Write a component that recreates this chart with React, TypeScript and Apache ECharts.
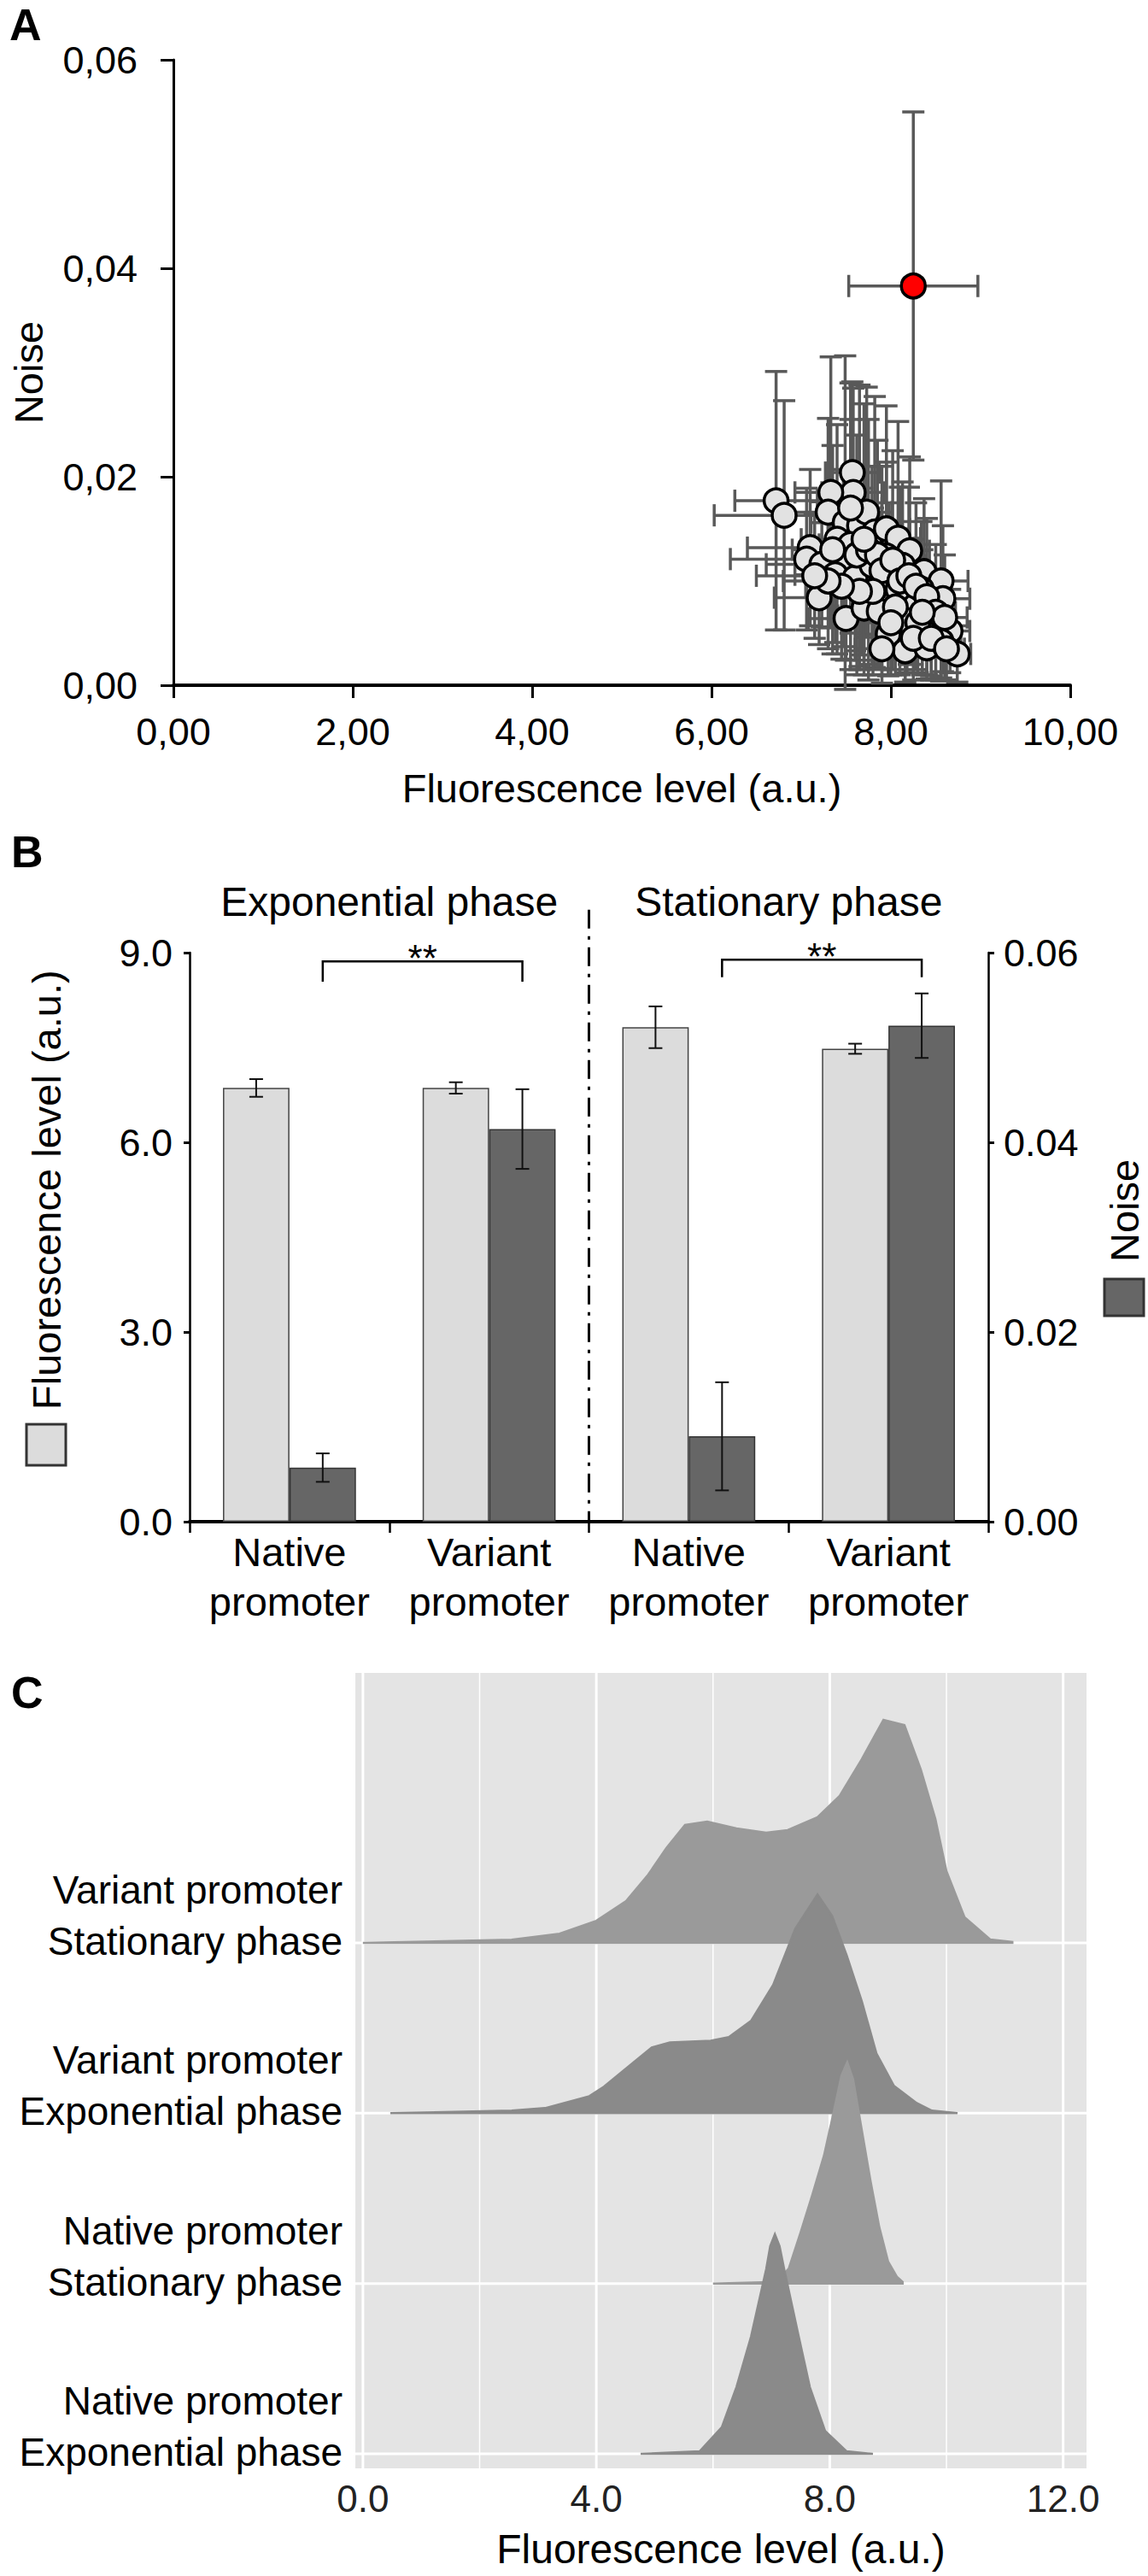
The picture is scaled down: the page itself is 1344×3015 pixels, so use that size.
import React, { useEffect, useRef } from "react";
import * as echarts from "echarts";

const FONT = '"Liberation Sans", Arial, Helvetica, sans-serif';

// ---------------- Panel A data ----------------
const aFluor = [6.72, 6.81, 7.57, 7.58, 7.33, 7.3, 7.49, 7.65, 7.73, 7.82, 7.95, 8.08, 8.21, 7.1, 7.06, 7.23, 7.47, 7.68, 7.38, 7.6, 7.79, 7.98, 8.13, 8.37, 8.56, 7.2, 7.5, 7.7, 7.87, 8.24, 8.34, 8.58, 7.97, 8.45, 8.66, 8.16, 8.4, 8.56, 8.74, 8.08, 7.95, 8.18, 8.3,
  7.4, 7.55, 7.62, 7.75, 7.85, 7.9, 8.02, 8.1, 8.2, 8.28, 8.4, 8.5, 8.6, 8.35, 8.05, 7.8, 7.65, 7.45, 7.3, 7.15, 7.35, 7.55, 7.7, 8.0, 8.25, 8.45, 8.62, 7.9];
const aNoise = [0.0177, 0.0163, 0.0204, 0.0185, 0.0185, 0.0166, 0.0156, 0.0153, 0.0166, 0.0147, 0.015, 0.0141, 0.0129, 0.0132, 0.0121, 0.0116, 0.0122, 0.0109, 0.0106, 0.0103, 0.0115, 0.01, 0.0115, 0.0109, 0.01, 0.0084, 0.0064, 0.0074, 0.0071, 0.008, 0.0092, 0.0083, 0.0049, 0.0054, 0.0052, 0.0033, 0.0036, 0.0042, 0.003, 0.0092, 0.0124, 0.0062, 0.006,
  0.014, 0.0135, 0.0125, 0.013, 0.0125, 0.011, 0.012, 0.01, 0.0105, 0.0095, 0.0085, 0.007, 0.0065, 0.007, 0.0075, 0.009, 0.009, 0.0095, 0.01, 0.0105, 0.013, 0.017, 0.014, 0.006, 0.0045, 0.0045, 0.0035, 0.0035];
const aFluorErr = [0.46, 0.78, 0.3, 0.35, 0.4, 0.45, 0.38, 0.32, 0.28, 0.3, 0.26, 0.25, 0.22, 0.7, 0.85, 0.62, 0.4, 0.35, 0.45, 0.4, 0.3, 0.28, 0.25, 0.22, 0.3, 0.5, 0.42, 0.35, 0.3, 0.25, 0.22, 0.3, 0.3, 0.25, 0.22, 0.28, 0.25, 0.22, 0.15, 0.25, 0.28, 0.26, 0.24,
  0.4, 0.35, 0.33, 0.3, 0.3, 0.28, 0.27, 0.26, 0.25, 0.24, 0.23, 0.22, 0.25, 0.25, 0.28, 0.32, 0.35, 0.4, 0.5, 0.65, 0.45, 0.35, 0.32, 0.28, 0.25, 0.22, 0.2, 0.3];
const aNoiseErr = [0.0124, 0.011, 0.0087, 0.01, 0.013, 0.009, 0.016, 0.0135, 0.012, 0.013, 0.0118, 0.0112, 0.009, 0.0075, 0.0068, 0.006, 0.0085, 0.008, 0.0065, 0.007, 0.0095, 0.0075, 0.008, 0.007, 0.0096, 0.0045, 0.004, 0.005, 0.0055, 0.006, 0.0065, 0.007, 0.004, 0.0045, 0.004, 0.003, 0.003, 0.0035, 0.0027, 0.0065, 0.009, 0.005, 0.0048,
  0.011, 0.012, 0.0115, 0.0125, 0.011, 0.01, 0.0105, 0.009, 0.0085, 0.008, 0.0075, 0.0065, 0.006, 0.006, 0.0065, 0.008, 0.0075, 0.007, 0.0065, 0.006, 0.01, 0.012, 0.013, 0.005, 0.004, 0.004, 0.003, 0.0033];
const aRed = [8.25, 0.0383];
const aRedErr = [0.72, 0.0167];

// ---------------- Panel B data ----------------
const bCategories = ["Native\npromoter", "Variant\npromoter", "Native\npromoter", "Variant\npromoter"];
const bFluor = [6.86, 6.86, 7.82, 7.48];
const bFluorErr = [0.14, 0.09, 0.33, 0.08];
const bNoise = [0.0057, 0.0414, 0.009, 0.0523];
const bNoiseErr = [0.0015, 0.0042, 0.0057, 0.0034];
const bPhases = ["Exponential phase", "Stationary phase"];
const bBrackets = [
  [0, 1, 8.86, 8.54],
  [2, 3, 8.89, 8.61],
];
const bSignifLabels = ["**", "**"];

// ---------------- Panel C data ----------------
const cLabels = [
  "Native promoter\nExponential phase",
  "Native promoter\nStationary phase",
  "Variant promoter\nExponential phase",
  "Variant promoter\nStationary phase",
];
const cTicks = [0, 4, 8, 12];
const cGridLines = [0, 2, 4, 6, 8, 10, 12];
const varStatX = [0.0, 2.55, 3.37, 4.0, 4.51, 4.89, 5.2, 5.52, 5.9, 6.4, 6.91, 7.28, 7.79, 8.17, 8.55, 8.92, 9.28, 9.56, 9.81, 10.0, 10.31, 10.75, 11.13];
const varStatD = [0, 0.019, 0.054, 0.13, 0.246, 0.401, 0.557, 0.692, 0.712, 0.672, 0.647, 0.662, 0.738, 0.863, 1.079, 1.31, 1.279, 1.019, 0.728, 0.421, 0.151, 0.02, 0.005];
const varExpX = [0.47, 2.55, 3.12, 3.88, 4.13, 4.63, 4.95, 5.26, 5.96, 6.27, 6.65, 7.03, 7.41, 7.79, 8.04, 8.29, 8.55, 8.8, 9.1, 9.49, 9.75, 10.19];
const varExpD = [0, 0.015, 0.03, 0.1, 0.156, 0.296, 0.386, 0.416, 0.426, 0.447, 0.542, 0.753, 1.084, 1.285, 1.159, 0.928, 0.657, 0.351, 0.161, 0.06, 0.015, 0];
const natStatX = [6.0, 7.1, 7.3, 7.5, 7.7, 7.9, 8.05, 8.2, 8.3, 8.4, 8.55, 8.7, 8.85, 9.0, 9.15, 9.25];
const natStatD = [0, 0.01, 0.09, 0.3, 0.52, 0.75, 0.98, 1.22, 1.3, 1.2, 0.9, 0.6, 0.33, 0.13, 0.04, 0.01];
const natExpX = [4.76, 5.77, 6.15, 6.4, 6.65, 6.91, 6.98, 7.06, 7.14, 7.22, 7.47, 7.66, 7.92, 8.29, 8.74];
const natExpD = [0, 0.015, 0.156, 0.391, 0.687, 1.084, 1.22, 1.29, 1.22, 1.084, 0.687, 0.391, 0.135, 0.015, 0];
const cLabelLift = 0.16;

const fmtComma = (v: number) => v.toFixed(2).replace(".", ",");

function ridgeSeries(xs: number[], ds: number[], base: number, color: string, z: number) {
  return {
    type: "custom",
    xAxisIndex: 2,
    yAxisIndex: 3,
    z,
    silent: true,
    data: xs.map((x, i) => [x, base + ds[i]]),
    renderItem: (params: any, api: any) => {
      if (params.dataIndex !== 0) return null;
      const pts = xs.map((x, i) => api.coord([x, base + ds[i]]));
      pts.push(api.coord([xs[xs.length - 1], base]));
      pts.push(api.coord([xs[0], base]));
      return {
        type: "polygon",
        shape: { points: pts },
        style: { fill: color, stroke: color, lineWidth: 2.5 },
      };
    },
  };
}

export default function App() {
  const ref = useRef<HTMLDivElement>(null);
  useEffect(() => {
    document.body.style.margin = "0";
    if (!ref.current) return;
    const chart = echarts.init(ref.current, undefined, { renderer: "svg" });

    const axisText = { color: "#000", fontFamily: FONT };

    const option: any = {
      animation: false,
      backgroundColor: "#fff",
      textStyle: { fontFamily: FONT },
      grid: [
        { left: 203, top: 70, width: 1050, height: 732 },
        { left: 222, top: 1115, width: 935, height: 666 },
        { left: 416, top: 1958, width: 856, height: 931, show: true, backgroundColor: "#e4e4e4", borderWidth: 0 },
      ],
      xAxis: [
        {
          gridIndex: 0,
          type: "value",
          min: 0,
          max: 10,
          interval: 2,
          axisLine: { show: true, onZero: false, lineStyle: { color: "#000", width: 4 } },
          axisTick: { show: true, inside: false, length: 15, lineStyle: { color: "#000", width: 3 } },
          axisLabel: { ...axisText, fontSize: 45, margin: 32, formatter: fmtComma },
          splitLine: { show: false },
          name: "Fluorescence level (a.u.)",
          nameLocation: "middle",
          nameGap: 97,
          nameTextStyle: { ...axisText, fontSize: 47 },
        },
        {
          gridIndex: 1,
          type: "category",
          data: bCategories,
          axisLine: { show: true, onZero: false, lineStyle: { color: "#000", width: 4 } },
          axisTick: { show: true, alignWithLabel: false, interval: 0, length: 13, lineStyle: { color: "#000", width: 2.5 } },
          axisLabel: { ...axisText, interval: 0, fontSize: 47, lineHeight: 58, margin: 6 },
          splitLine: { show: false },
        },
        {
          gridIndex: 2,
          type: "value",
          min: -0.13,
          max: 12.4,
          axisLine: { show: false },
          axisTick: { show: false },
          splitLine: { show: false },
          axisLabel: { color: "#222", fontFamily: FONT, fontSize: 44, margin: 13, customValues: cTicks, formatter: (v: number) => v.toFixed(1) },
          name: "Fluorescence level (a.u.)",
          nameLocation: "middle",
          nameGap: 70,
          nameTextStyle: { ...axisText, fontSize: 48 },
        },
      ],
      yAxis: [
        {
          gridIndex: 0,
          type: "value",
          min: 0,
          max: 0.06,
          interval: 0.02,
          axisLine: { show: true, onZero: false, lineStyle: { color: "#000", width: 3 } },
          axisTick: { show: true, length: 15, lineStyle: { color: "#000", width: 3 } },
          axisLabel: { ...axisText, fontSize: 45, margin: 42, formatter: fmtComma },
          splitLine: { show: false },
          name: "Noise",
          nameLocation: "middle",
          nameRotate: 90,
          nameGap: 146,
          nameTextStyle: { ...axisText, fontSize: 47 },
        },
        {
          gridIndex: 1,
          type: "value",
          position: "left",
          min: 0,
          max: 9,
          interval: 3,
          axisLine: { show: true, lineStyle: { color: "#000", width: 2.5 } },
          axisTick: { show: true, length: 7, lineStyle: { color: "#000", width: 3 } },
          axisLabel: { ...axisText, fontSize: 45, margin: 20, formatter: (v: number) => v.toFixed(1) },
          splitLine: { show: false },
        },
        {
          gridIndex: 1,
          type: "value",
          position: "right",
          min: 0,
          max: 0.06,
          interval: 0.02,
          axisLine: { show: true, lineStyle: { color: "#000", width: 2.5 } },
          axisTick: { show: true, length: 7, lineStyle: { color: "#000", width: 3 } },
          axisLabel: { ...axisText, fontSize: 45, margin: 18, formatter: (v: number) => v.toFixed(2) },
          splitLine: { show: false },
        },
        {
          gridIndex: 2,
          type: "value",
          min: 0.915,
          max: 5.585,
          axisLine: { show: false },
          axisTick: { show: false },
          splitLine: { show: false },
          axisLabel: {
            ...axisText,
            fontSize: 46,
            lineHeight: 60,
            margin: 15,
            align: "right",
            customValues: [1, 2, 3, 4].map((v) => v + cLabelLift),
            formatter: (v: number) => cLabels[Math.round(v - cLabelLift) - 1] || "",
          },
        },
      ],
      graphic: [
        { type: "text", x: 11, y: 29, style: { text: "A", fontSize: 52, fontWeight: "bold", fontFamily: FONT, fill: "#000", align: "left", verticalAlign: "middle" } },
        { type: "text", x: 13, y: 997, style: { text: "B", fontSize: 52, fontWeight: "bold", fontFamily: FONT, fill: "#000", align: "left", verticalAlign: "middle" } },
        { type: "text", x: 13, y: 1981, style: { text: "C", fontSize: 52, fontWeight: "bold", fontFamily: FONT, fill: "#000", align: "left", verticalAlign: "middle" } },
        {
          type: "group",
          x: 54,
          y: 1715,
          rotation: Math.PI / 2,
          children: [
            { type: "rect", shape: { x: 0, y: -23, width: 48, height: 46 }, style: { fill: "#dcdcdc", stroke: "#333", lineWidth: 3 } },
            { type: "text", x: 65, y: 0, style: { text: "Fluorescence level (a.u.)", fontSize: 47, fontFamily: FONT, fill: "#000", align: "left", verticalAlign: "middle" } },
          ],
        },
        {
          type: "group",
          x: 1316,
          y: 1540,
          rotation: Math.PI / 2,
          children: [
            { type: "rect", shape: { x: 0, y: -23, width: 43, height: 46 }, style: { fill: "#666", stroke: "#333", lineWidth: 3 } },
            { type: "text", x: 63, y: 0, style: { text: "Noise", fontSize: 47, fontFamily: FONT, fill: "#000", align: "left", verticalAlign: "middle" } },
          ],
        },
      ],
      series: [
        // ---- Panel A error bars ----
        {
          type: "custom",
          xAxisIndex: 0,
          yAxisIndex: 0,
          z: 2,
          silent: true,
          data: aFluor.map((x, i) => [x, aNoise[i], aFluorErr[i], aNoiseErr[i]]).concat([[aRed[0], aRed[1], aRedErr[0], aRedErr[1]]]),
          renderItem: (params: any, api: any) => {
            const x = api.value(0), y = api.value(1), ex = api.value(2), ey = api.value(3);
            const t = api.coord([x, y + ey]);
            const b = api.coord([x, y - ey]);
            const l = api.coord([x - ex, y]);
            const r = api.coord([x + ex, y]);
            const st = { stroke: "#595959", lineWidth: 3.5 };
            const c = 13;
            return {
              type: "group",
              children: [
                { type: "line", shape: { x1: t[0], y1: t[1], x2: b[0], y2: b[1] }, style: st },
                { type: "line", shape: { x1: t[0] - c, y1: t[1], x2: t[0] + c, y2: t[1] }, style: st },
                { type: "line", shape: { x1: b[0] - c, y1: b[1], x2: b[0] + c, y2: b[1] }, style: st },
                { type: "line", shape: { x1: l[0], y1: l[1], x2: r[0], y2: r[1] }, style: st },
                { type: "line", shape: { x1: l[0], y1: l[1] - c, x2: l[0], y2: l[1] + c }, style: st },
                { type: "line", shape: { x1: r[0], y1: r[1] - c, x2: r[0], y2: r[1] + c }, style: st },
              ],
            };
          },
        },
        {
          type: "scatter",
          xAxisIndex: 0,
          yAxisIndex: 0,
          z: 3,
          symbol: "circle",
          symbolSize: 28,
          data: aFluor.map((x, i) => [x, aNoise[i]]),
          itemStyle: { color: "#e2e2e2", borderColor: "#000", borderWidth: 3.5, opacity: 1 },
        },
        {
          type: "scatter",
          xAxisIndex: 0,
          yAxisIndex: 0,
          z: 4,
          symbol: "circle",
          symbolSize: 28,
          data: [aRed],
          itemStyle: { color: "#ff0000", borderColor: "#000", borderWidth: 3.5, opacity: 1 },
        },
        // ---- Panel B ----
        {
          type: "bar",
          name: "Fluorescence level (a.u.)",
          xAxisIndex: 1,
          yAxisIndex: 1,
          data: bFluor,
          barWidth: "33.3%",
          barGap: "0%",
          itemStyle: { color: "#dcdcdc", borderColor: "#444", borderWidth: 1.5 },
        },
        {
          type: "bar",
          name: "Noise",
          xAxisIndex: 1,
          yAxisIndex: 2,
          data: bNoise,
          barWidth: "33.3%",
          barGap: "0%",
          itemStyle: { color: "#666666", borderColor: "#333", borderWidth: 1.5 },
        },
        {
          type: "custom",
          xAxisIndex: 1,
          yAxisIndex: 1,
          z: 5,
          silent: true,
          data: bFluor.map((v, i) => [i, v, bFluorErr[i]]),
          renderItem: (params: any, api: any) => {
            const i = api.value(0), v = api.value(1), e = api.value(2);
            const bw = api.size([1, 0])[0] / 3;
            const t = api.coord([i, v + e]);
            const b = api.coord([i, v - e]);
            const x = t[0] - bw / 2;
            const st = { stroke: "#111", lineWidth: 2 };
            return {
              type: "group",
              children: [
                { type: "line", shape: { x1: x, y1: t[1], x2: x, y2: b[1] }, style: st },
                { type: "line", shape: { x1: x - 8, y1: t[1], x2: x + 8, y2: t[1] }, style: st },
                { type: "line", shape: { x1: x - 8, y1: b[1], x2: x + 8, y2: b[1] }, style: st },
              ],
            };
          },
        },
        {
          type: "custom",
          xAxisIndex: 1,
          yAxisIndex: 2,
          z: 5,
          silent: true,
          data: bNoise.map((v, i) => [i, v, bNoiseErr[i]]),
          renderItem: (params: any, api: any) => {
            const i = api.value(0), v = api.value(1), e = api.value(2);
            const bw = api.size([1, 0])[0] / 3;
            const t = api.coord([i, v + e]);
            const b = api.coord([i, v - e]);
            const x = t[0] + bw / 2;
            const st = { stroke: "#111", lineWidth: 2 };
            return {
              type: "group",
              children: [
                { type: "line", shape: { x1: x, y1: t[1], x2: x, y2: b[1] }, style: st },
                { type: "line", shape: { x1: x - 8, y1: t[1], x2: x + 8, y2: t[1] }, style: st },
                { type: "line", shape: { x1: x - 8, y1: b[1], x2: x + 8, y2: b[1] }, style: st },
              ],
            };
          },
        },
        {
          type: "custom",
          xAxisIndex: 1,
          yAxisIndex: 1,
          z: 5,
          silent: true,
          data: bBrackets,
          renderItem: (params: any, api: any) => {
            const f = api.value(0), to = api.value(1), top = api.value(2), leg = api.value(3);
            const bw = api.size([1, 0])[0] / 3;
            const p1 = api.coord([f, top]);
            const p2 = api.coord([to, top]);
            const pl = api.coord([f, leg]);
            const lx = p1[0] + bw / 2;
            const rx = p2[0] + bw / 2;
            return {
              type: "group",
              children: [
                {
                  type: "polyline",
                  shape: { points: [[lx, pl[1]], [lx, p1[1]], [rx, p1[1]], [rx, pl[1]]] },
                  style: { stroke: "#000", lineWidth: 2.5, fill: "none" },
                },
                {
                  type: "text",
                  x: (lx + rx) / 2,
                  y: p1[1] - 4,
                  style: { text: bSignifLabels[params.dataIndex], fontSize: 44, fontFamily: FONT, fill: "#000", align: "center", verticalAlign: "middle" },
                },
              ],
            };
          },
        },
        {
          type: "custom",
          xAxisIndex: 1,
          yAxisIndex: 1,
          z: 5,
          silent: true,
          data: [[0, 1, 9.8], [2, 3, 9.8]],
          renderItem: (params: any, api: any) => {
            const a = api.coord([api.value(0), api.value(2)]);
            const b = api.coord([api.value(1), api.value(2)]);
            return {
              type: "text",
              x: (a[0] + b[0]) / 2,
              y: a[1],
              style: { text: bPhases[params.dataIndex], fontSize: 48, fontFamily: FONT, fill: "#000", align: "center", verticalAlign: "middle" },
            };
          },
        },
        {
          type: "custom",
          xAxisIndex: 1,
          yAxisIndex: 1,
          z: 5,
          silent: true,
          data: [[1, 9.68]],
          renderItem: (params: any, api: any) => {
            const bw = api.size([1, 0])[0];
            const t = api.coord([api.value(0), api.value(1)]);
            const b = api.coord([api.value(0), 0]);
            const x = t[0] + bw / 2;
            return {
              type: "line",
              shape: { x1: x, y1: t[1], x2: x, y2: b[1] },
              style: { stroke: "#000", lineWidth: 3, lineDash: [22, 9, 4, 9] },
            };
          },
        },
        // ---- Panel C ----
        {
          type: "custom",
          xAxisIndex: 2,
          yAxisIndex: 3,
          z: 1,
          silent: true,
          data: cGridLines.map((v) => [v, 1]),
          renderItem: (params: any, api: any) => {
            const v = api.value(0);
            const cs = params.coordSys;
            const x = api.coord([v, 1])[0];
            const major = v % 4 === 0;
            return {
              type: "line",
              shape: { x1: x, y1: cs.y, x2: x, y2: cs.y + cs.height },
              style: { stroke: "#ffffff", lineWidth: major ? 3 : 1.5 },
            };
          },
        },
        {
          type: "custom",
          xAxisIndex: 2,
          yAxisIndex: 3,
          z: 1,
          silent: true,
          data: [[0, 1], [0, 2], [0, 3], [0, 4]],
          renderItem: (params: any, api: any) => {
            const cs = params.coordSys;
            const y = api.coord([0, api.value(1)])[1];
            return {
              type: "line",
              shape: { x1: cs.x, y1: y, x2: cs.x + cs.width, y2: y },
              style: { stroke: "#ffffff", lineWidth: 3 },
            };
          },
        },
        ridgeSeries(varStatX, varStatD, 4, "#9a9a9a", 2),
        ridgeSeries(varExpX, varExpD, 3, "#8a8a8a", 3),
        ridgeSeries(natStatX, natStatD, 2, "#9a9a9a", 4),
        ridgeSeries(natExpX, natExpD, 1, "#8a8a8a", 5),
      ],
    };
    chart.setOption(option);
    return () => chart.dispose();
  }, []);
  return <div ref={ref} style={{ width: 1344, height: 3015 }} />;
}
